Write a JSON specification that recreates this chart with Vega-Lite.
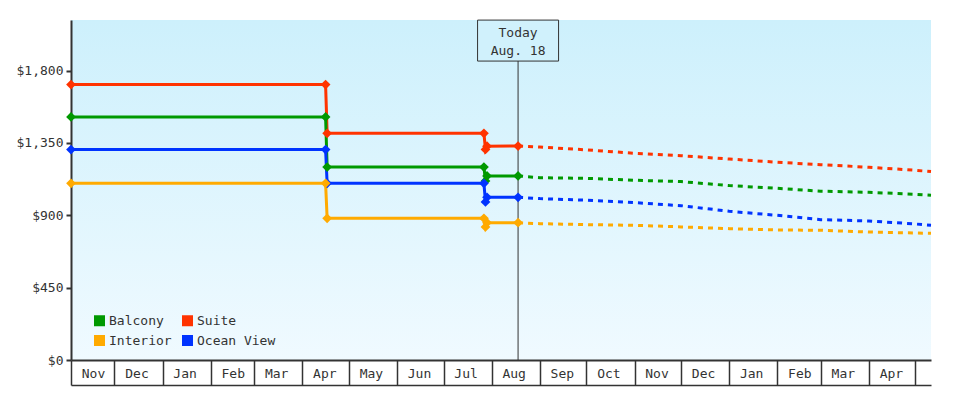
{
  "$schema": "https://vega.github.io/schema/vega-lite/v6.json",
  "width": 860,
  "height": 340,
  "autosize": {"type": "none"},
  "padding": {"left": 71, "top": 20, "right": 49, "bottom": 40},
  "background": "white",
  "config": {
    "font": "DejaVu Sans Mono",
    "view": {
      "stroke": null,
      "fill": {
        "gradient": "linear", "x1": 0, "y1": 0, "x2": 0, "y2": 1,
        "stops": [{"offset": 0, "color": "#cdf0fc"}, {"offset": 1, "color": "#f0faff"}]
      }
    },
    "axis": {
      "labelFont": "DejaVu Sans Mono",
      "labelFontSize": 13,
      "labelColor": "#333333",
      "domainColor": "#333333",
      "tickColor": "#333333",
      "grid": false,
      "title": null
    }
  },
  "datasets": {
    "today": [{"date": "2022-08-18", "label": "Today\nAug. 18"}],
    "history": [
      {"date": "2021-11-03", "cabin": "Suite", "price": 1713},
      {"date": "2022-04-16", "cabin": "Suite", "price": 1713},
      {"date": "2022-04-17", "cabin": "Suite", "price": 1410},
      {"date": "2022-07-27", "cabin": "Suite", "price": 1410},
      {"date": "2022-07-28", "cabin": "Suite", "price": 1310},
      {"date": "2022-07-29", "cabin": "Suite", "price": 1330},
      {"date": "2022-08-18", "cabin": "Suite", "price": 1331},
      {"date": "2021-11-03", "cabin": "Balcony", "price": 1512},
      {"date": "2022-04-16", "cabin": "Balcony", "price": 1512},
      {"date": "2022-04-17", "cabin": "Balcony", "price": 1200},
      {"date": "2022-07-27", "cabin": "Balcony", "price": 1200},
      {"date": "2022-07-28", "cabin": "Balcony", "price": 1114},
      {"date": "2022-07-29", "cabin": "Balcony", "price": 1145},
      {"date": "2022-08-18", "cabin": "Balcony", "price": 1145},
      {"date": "2021-11-03", "cabin": "Ocean View", "price": 1309},
      {"date": "2022-04-16", "cabin": "Ocean View", "price": 1309},
      {"date": "2022-04-17", "cabin": "Ocean View", "price": 1099},
      {"date": "2022-07-27", "cabin": "Ocean View", "price": 1099},
      {"date": "2022-07-28", "cabin": "Ocean View", "price": 983},
      {"date": "2022-07-29", "cabin": "Ocean View", "price": 1012},
      {"date": "2022-08-18", "cabin": "Ocean View", "price": 1012},
      {"date": "2021-11-03", "cabin": "Interior", "price": 1099},
      {"date": "2022-04-16", "cabin": "Interior", "price": 1099},
      {"date": "2022-04-17", "cabin": "Interior", "price": 881},
      {"date": "2022-07-27", "cabin": "Interior", "price": 881},
      {"date": "2022-07-28", "cabin": "Interior", "price": 828},
      {"date": "2022-07-29", "cabin": "Interior", "price": 854},
      {"date": "2022-08-18", "cabin": "Interior", "price": 854}
    ],
    "forecast": [
      {"date": "2022-08-18", "cabin": "Suite", "price": 1331},
      {"date": "2022-09-01", "cabin": "Suite", "price": 1325},
      {"date": "2022-10-01", "cabin": "Suite", "price": 1307},
      {"date": "2022-11-01", "cabin": "Suite", "price": 1286},
      {"date": "2022-12-01", "cabin": "Suite", "price": 1271},
      {"date": "2023-01-01", "cabin": "Suite", "price": 1250},
      {"date": "2023-02-01", "cabin": "Suite", "price": 1230},
      {"date": "2023-03-01", "cabin": "Suite", "price": 1215},
      {"date": "2023-04-01", "cabin": "Suite", "price": 1199},
      {"date": "2023-05-01", "cabin": "Suite", "price": 1180},
      {"date": "2023-05-11", "cabin": "Suite", "price": 1172},
      {"date": "2022-08-18", "cabin": "Balcony", "price": 1145},
      {"date": "2022-09-01", "cabin": "Balcony", "price": 1134},
      {"date": "2022-10-01", "cabin": "Balcony", "price": 1130},
      {"date": "2022-11-01", "cabin": "Balcony", "price": 1118},
      {"date": "2022-12-01", "cabin": "Balcony", "price": 1110},
      {"date": "2023-01-01", "cabin": "Balcony", "price": 1085},
      {"date": "2023-02-01", "cabin": "Balcony", "price": 1068},
      {"date": "2023-03-01", "cabin": "Balcony", "price": 1050},
      {"date": "2023-04-01", "cabin": "Balcony", "price": 1043},
      {"date": "2023-05-01", "cabin": "Balcony", "price": 1031},
      {"date": "2023-05-11", "cabin": "Balcony", "price": 1025},
      {"date": "2022-08-18", "cabin": "Ocean View", "price": 1012},
      {"date": "2022-09-01", "cabin": "Ocean View", "price": 1004},
      {"date": "2022-10-01", "cabin": "Ocean View", "price": 994},
      {"date": "2022-11-01", "cabin": "Ocean View", "price": 979},
      {"date": "2022-12-01", "cabin": "Ocean View", "price": 960},
      {"date": "2023-01-01", "cabin": "Ocean View", "price": 925},
      {"date": "2023-02-01", "cabin": "Ocean View", "price": 900},
      {"date": "2023-03-01", "cabin": "Ocean View", "price": 873},
      {"date": "2023-04-01", "cabin": "Ocean View", "price": 865},
      {"date": "2023-05-01", "cabin": "Ocean View", "price": 846},
      {"date": "2023-05-11", "cabin": "Ocean View", "price": 838},
      {"date": "2022-08-18", "cabin": "Interior", "price": 854},
      {"date": "2022-09-01", "cabin": "Interior", "price": 848},
      {"date": "2022-10-01", "cabin": "Interior", "price": 842},
      {"date": "2022-11-01", "cabin": "Interior", "price": 838},
      {"date": "2022-12-01", "cabin": "Interior", "price": 828},
      {"date": "2023-01-01", "cabin": "Interior", "price": 817},
      {"date": "2023-02-01", "cabin": "Interior", "price": 809},
      {"date": "2023-03-01", "cabin": "Interior", "price": 807},
      {"date": "2023-04-01", "cabin": "Interior", "price": 796},
      {"date": "2023-05-01", "cabin": "Interior", "price": 790},
      {"date": "2023-05-11", "cabin": "Interior", "price": 788}
    ]
  },
  "layer": [
    {
      "data": {"name": "today"},
      "mark": {"type": "rule", "color": "#333333", "strokeWidth": 1},
      "encoding": {
        "x": {
          "field": "date", "type": "temporal",
          "scale": {"domain": [{"year": 2021, "month": "nov", "date": 3}, {"year": 2023, "month": "may", "date": 11}]},
          "axis": {"orient": "bottom", "offset": 25, "domain": true, "domainWidth": 1.5, "ticks": false, "labels": false, "grid": false, "title": null}
        }
      }
    },
    {
      "data": {"name": "history"},
      "mark": {"type": "line", "strokeWidth": 3},
      "encoding": {
        "x": {
          "field": "date", "type": "temporal",
          "axis": {
            "orient": "bottom",
            "values": [
              {"year": 2021, "month": "nov", "date": 3},
              {"year": 2021, "month": "dec", "date": 1},
              {"year": 2022, "month": "jan", "date": 1},
              {"year": 2022, "month": "feb", "date": 1},
              {"year": 2022, "month": "mar", "date": 1},
              {"year": 2022, "month": "apr", "date": 1},
              {"year": 2022, "month": "may", "date": 1},
              {"year": 2022, "month": "jun", "date": 1},
              {"year": 2022, "month": "jul", "date": 1},
              {"year": 2022, "month": "aug", "date": 1},
              {"year": 2022, "month": "sep", "date": 1},
              {"year": 2022, "month": "oct", "date": 1},
              {"year": 2022, "month": "nov", "date": 1},
              {"year": 2022, "month": "dec", "date": 1},
              {"year": 2023, "month": "jan", "date": 1},
              {"year": 2023, "month": "feb", "date": 1},
              {"year": 2023, "month": "mar", "date": 1},
              {"year": 2023, "month": "apr", "date": 1},
              {"year": 2023, "month": "may", "date": 1}
            ],
            "labelExpr": "datum.value >= datetime(2023, 4, 1) ? '' : timeFormat(datum.value, '%b')",
            "tickSize": 25,
            "tickWidth": 1.5,
            "domainWidth": 2,
            "labelOffset": 22,
            "labelPadding": -12,
            "labelBaseline": "middle",
            "labelAlign": "center",
            "labelFlush": false,
            "labelOverlap": false,
            "labelBound": false,
            "title": null
          }
        },
        "y": {
          "field": "price", "type": "quantitative",
          "scale": {"domain": [0, 2115], "nice": false},
          "axis": {"values": [0, 450, 900, 1350, 1800], "format": "$,.0f", "tickSize": 5, "tickWidth": 2, "domainWidth": 2, "labelPadding": 3, "title": null}
        },
        "color": {
          "field": "cabin", "type": "nominal",
          "scale": {"domain": ["Balcony", "Interior", "Suite", "Ocean View"], "range": ["#009900", "#ffaa00", "#ff3300", "#0033ff"]},
          "legend": {
            "orient": "none", "legendX": 22, "legendY": 294, "columns": 2, "title": null,
            "symbolType": "square", "symbolSize": 121, "symbolStrokeWidth": 0,
            "labelFont": "DejaVu Sans Mono", "labelFontSize": 13, "labelColor": "#333333",
            "columnPadding": 9, "rowPadding": 6, "labelOffset": 3, "padding": 0
          }
        }
      }
    },
    {
      "data": {"name": "forecast"},
      "mark": {"type": "line", "strokeWidth": 3, "strokeDash": [5, 5]},
      "encoding": {
        "x": {"field": "date", "type": "temporal", "axis": null},
        "y": {"field": "price", "type": "quantitative"},
        "color": {"field": "cabin", "type": "nominal"}
      }
    },
    {
      "data": {"name": "history"},
      "mark": {"type": "point", "shape": "diamond", "filled": true, "size": 95, "opacity": 1},
      "encoding": {
        "x": {"field": "date", "type": "temporal", "axis": null},
        "y": {"field": "price", "type": "quantitative"},
        "color": {"field": "cabin", "type": "nominal"}
      }
    },
    {
      "data": {"name": "today"},
      "mark": {"type": "point", "shape": "M-1,-0.506L1,-0.506L1,0.506L-1,0.506Z", "size": 6561, "filled": true, "fill": "#d0f1fc", "stroke": "#333333", "strokeWidth": 1, "opacity": 1},
      "encoding": {
        "x": {"field": "date", "type": "temporal", "axis": null},
        "y": {"datum": 1987}
      }
    },
    {
      "data": {"name": "today"},
      "mark": {"type": "text", "font": "DejaVu Sans Mono", "fontSize": 13, "color": "#333333", "lineBreak": "\n", "lineHeight": 18, "baseline": "middle", "align": "center", "dy": -8},
      "encoding": {
        "x": {"field": "date", "type": "temporal", "axis": null},
        "y": {"datum": 1987},
        "text": {"field": "label"}
      }
    }
  ],
  "resolve": {"axis": {"x": "independent"}}
}
